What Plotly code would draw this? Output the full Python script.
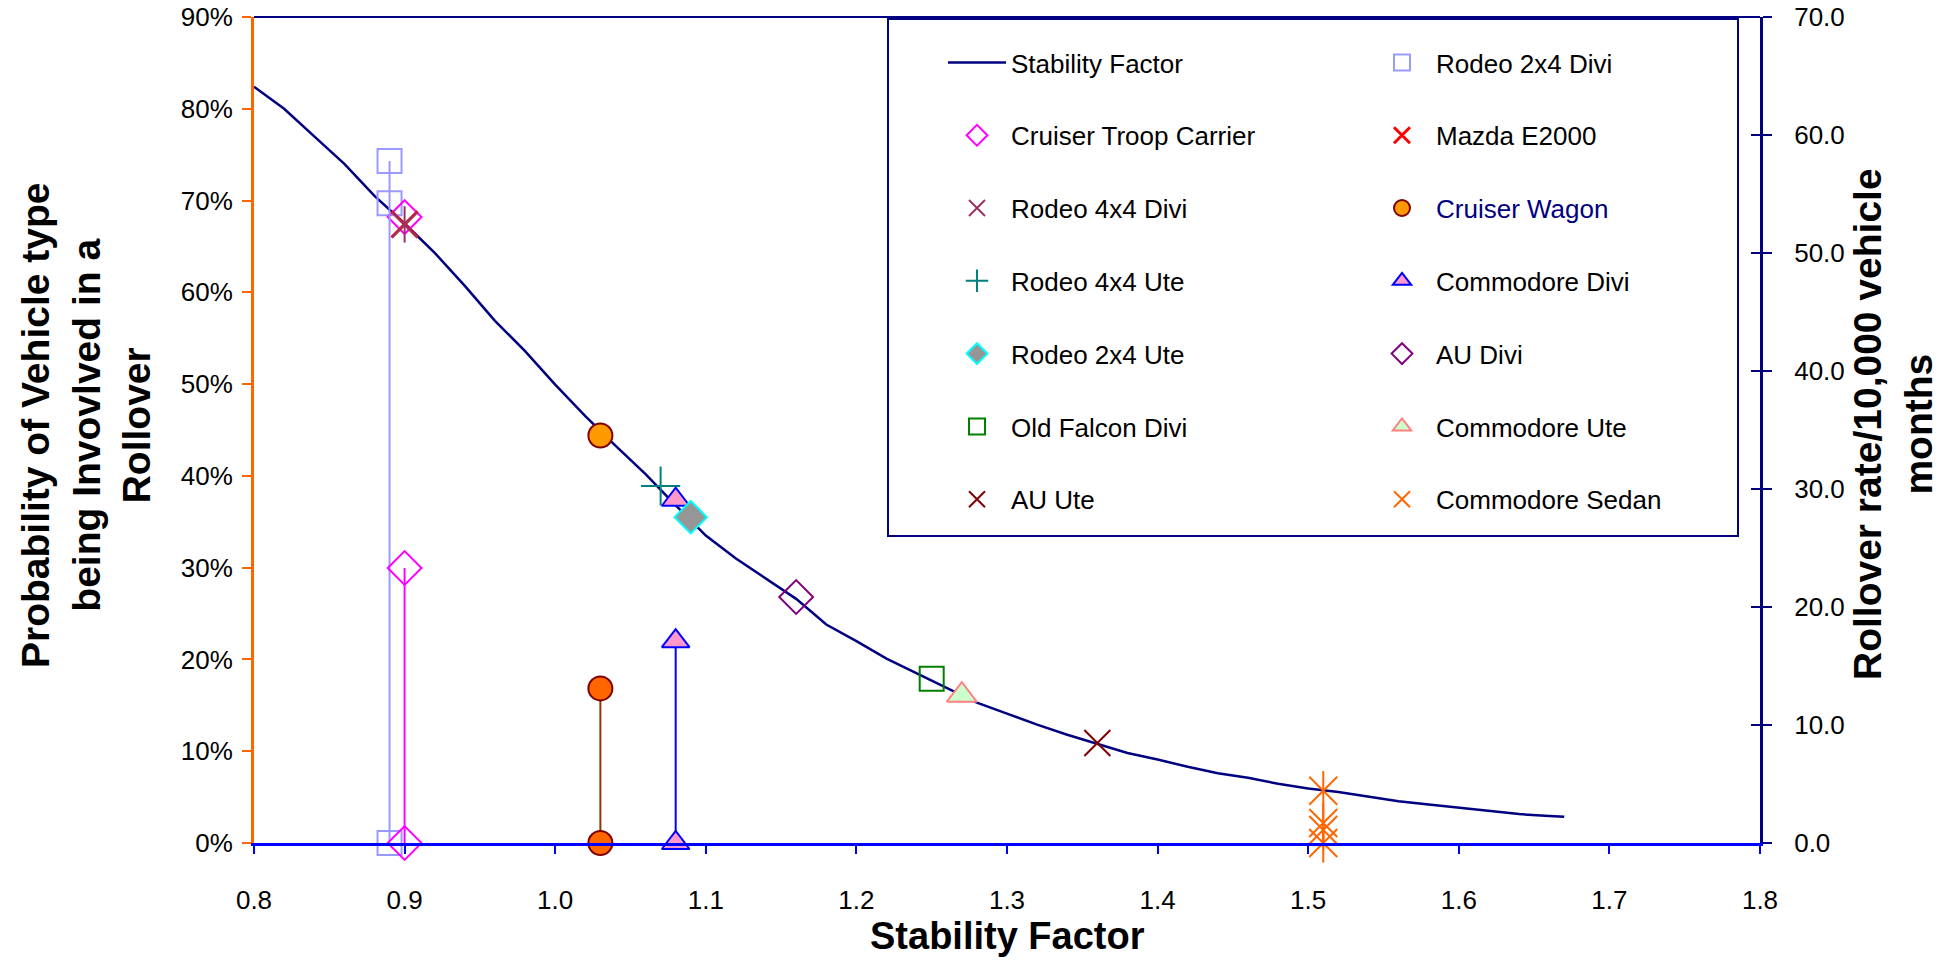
import plotly.graph_objects as go

# ---------------- data ----------------
curve_sf = [0.80, 0.82, 0.84, 0.86, 0.88, 0.90, 0.92, 0.94, 0.96, 0.98,
            1.00, 1.02, 1.04, 1.06, 1.08, 1.10, 1.12, 1.14, 1.16, 1.18,
            1.20, 1.22, 1.24, 1.26, 1.28, 1.30, 1.32, 1.34, 1.36, 1.38,
            1.40, 1.42, 1.44, 1.46, 1.48, 1.50, 1.52, 1.54, 1.56, 1.58,
            1.60, 1.62, 1.64, 1.66, 1.67]
curve_prob_pct = [82.4, 80.0, 77.0, 74.0, 70.5, 67.5, 64.3, 60.7, 56.9, 53.6,
                  49.95, 46.5, 43.3, 40.2, 36.8, 33.5, 31.0, 28.8, 26.6, 23.8,
                  22.0, 20.1, 18.5, 16.9, 15.3, 14.1, 12.9, 11.8, 10.8, 9.8,
                  9.1, 8.3, 7.6, 7.1, 6.45, 5.95, 5.55, 5.05, 4.55, 4.2,
                  3.85, 3.5, 3.15, 2.95, 2.85]

veh_names = ["Rodeo 2x4 Divi", "Cruiser Troop Carrier", "Mazda E2000", "Rodeo 4x4 Divi",
             "Cruiser Wagon", "Rodeo 4x4 Ute", "Commodore Divi", "Rodeo 2x4 Ute",
             "AU Divi", "Old Falcon Divi", "Commodore Ute", "AU Ute", "Commodore Sedan"]
veh_sf = [0.89, 0.90, 0.90, 0.90, 1.03, 1.07, 1.08, 1.09, 1.16, 1.25, 1.27, 1.36, 1.51]
veh_prob_pct = [69.7, 68.2, 67.4, 67.4, 44.4, 38.9, 37.4, 35.5, 26.8, 17.9, 16.1, 10.9, 5.7]

# rollover rate per 10,000 vehicle months (right axis), drawn as stems from 0
stem_names = ["Rodeo 2x4 Divi", "Cruiser Troop Carrier", "Cruiser Wagon", "Commodore Divi", "Commodore Sedan"]
stem_sf = [0.89, 0.90, 1.03, 1.08, 1.51]
stem_rates = [[0.0, 57.8], [0.0, 23.3], [0.0, 13.1], [0.0, 17.1], [0.0, 1.1, 1.7]]

x_ticks = [0.8, 0.9, 1.0, 1.1, 1.2, 1.3, 1.4, 1.5, 1.6, 1.7, 1.8]

# ---------------- styles ----------------
FONT = "Liberation Sans, Arial, sans-serif"
NAVY = "#000080"

styles = {
    "Rodeo 2x4 Divi": dict(symbol="square-open", size=24, color="#9999FF", line=dict(width=2, color="#9999FF")),
    "Cruiser Troop Carrier": dict(symbol="diamond-open", size=26, color="#FF00FF", line=dict(width=2, color="#FF00FF")),
    "Mazda E2000": dict(symbol="x-thin-open", size=26, color="#FF0000", line=dict(width=3, color="#FF0000")),
    "Rodeo 4x4 Divi": dict(symbol="x-thin-open", size=26, color="#993366", line=dict(width=2, color="#993366")),
    "Cruiser Wagon": dict(symbol="circle", size=24, color="#FF9900", line=dict(width=2, color="#800000")),
    "Rodeo 4x4 Ute": dict(symbol="cross-thin-open", size=28, color="#008080", line=dict(width=2, color="#008080")),
    "Commodore Divi": dict(symbol="triangle-up", size=24, color="#FF99CC", line=dict(width=2, color="#0000FF")),
    "Rodeo 2x4 Ute": dict(symbol="diamond", size=25, color="#969696", line=dict(width=2, color="#00FFFF")),
    "AU Divi": dict(symbol="diamond-open", size=26, color="#800080", line=dict(width=2, color="#800080")),
    "Old Falcon Divi": dict(symbol="square-open", size=24, color="#008000", line=dict(width=2, color="#008000")),
    "Commodore Ute": dict(symbol="triangle-up", size=26, color="#CCFFCC", line=dict(width=2, color="#FF8080")),
    "AU Ute": dict(symbol="x-thin-open", size=26, color="#800000", line=dict(width=2, color="#800000")),
    "Commodore Sedan": dict(symbol="x-thin-open", size=28, color="#FF6600", line=dict(width=2, color="#FF6600")),
}
star_vehicles = {"Rodeo 4x4 Divi", "Commodore Sedan"}  # X plus a vertical bar
stem_line_color = {"Rodeo 2x4 Divi": "#9999FF", "Cruiser Troop Carrier": "#FF00FF",
                   "Cruiser Wagon": "#993300", "Commodore Divi": "#0000FF",
                   "Commodore Sedan": "#FF6600"}
stem_fill = {"Cruiser Wagon": "#FF6600"}

col1 = ["Stability Factor", "Cruiser Troop Carrier", "Rodeo 4x4 Divi", "Rodeo 4x4 Ute",
        "Rodeo 2x4 Ute", "Old Falcon Divi", "AU Ute"]
col2 = ["Rodeo 2x4 Divi", "Mazda E2000", "Cruiser Wagon", "Commodore Divi",
        "AU Divi", "Commodore Ute", "Commodore Sedan"]

def legend_of(name):
    return "legend" if name in col1 else "legend2"

def label(name):
    if name == "Cruiser Wagon":
        return '<span style="color:#000080">Cruiser Wagon</span>'
    return name

fig = go.Figure()

fig.add_trace(go.Scatter(
    x=curve_sf, y=[p / 100 for p in curve_prob_pct], mode="lines",
    name="Stability Factor", line=dict(color=NAVY, width=2.5),
    legend="legend", legendgroup="Stability Factor", yaxis="y"))

# stems (right axis)
for nm, sx, rates in zip(stem_names, stem_sf, stem_rates):
    st = dict(styles[nm])
    if nm in stem_fill:
        st["color"] = stem_fill[nm]
    fig.add_trace(go.Scatter(
        x=[sx] * len(rates), y=rates, mode="lines+markers", yaxis="y2",
        line=dict(color=stem_line_color[nm], width=2), marker=st,
        showlegend=False, legendgroup=nm, legend=legend_of(nm), cliponaxis=False, name=nm))
    if nm in star_vehicles:
        fig.add_trace(go.Scatter(
            x=[sx] * len(rates), y=rates, mode="markers", yaxis="y2",
            marker=dict(symbol="line-ns-open", size=st["size"], color=st["color"],
                        line=dict(width=2, color=st["color"])),
            showlegend=False, legendgroup=nm, legend=legend_of(nm), cliponaxis=False, name=nm))

# points on the curve (left axis)
for nm, sx, pp in zip(veh_names, veh_sf, veh_prob_pct):
    st = styles[nm]
    fig.add_trace(go.Scatter(
        x=[sx], y=[pp / 100], mode="markers", yaxis="y", name=label(nm),
        marker=st, legendgroup=nm, legend=legend_of(nm), cliponaxis=False))
    if nm in star_vehicles:
        fig.add_trace(go.Scatter(
            x=[sx], y=[pp / 100], mode="markers", yaxis="y",
            marker=dict(symbol="line-ns-open", size=st["size"], color=st["color"],
                        line=dict(width=2, color=st["color"])),
            showlegend=False, legendgroup=nm, legend=legend_of(nm), cliponaxis=False, name=nm))

order = col1 + col2
for tr in fig.data:
    tr.legendrank = order.index(tr.legendgroup) + 1

# empty helper trace so the inside-tick companion of the right axis is drawn
fig.add_trace(go.Scatter(x=[], y=[], yaxis="y3", showlegend=False, hoverinfo="skip"))

W, H = 1953, 965
L, R, T, B = 254, 1760, 17, 843     # plot area, pixels
pw, ph = R - L, B - T

def px(xs):
    return (xs - L) / pw

def py(ys):
    return (B - ys) / ph

legend_common = dict(
    bgcolor="rgba(0,0,0,0)", borderwidth=0, font=dict(family=FONT, size=26, color="black"),
    tracegroupgap=36, itemsizing="trace", itemwidth=58, xanchor="left", yanchor="top",
    orientation="v", traceorder="grouped")

axis_common = dict(showgrid=False, zeroline=False, automargin=False, ticks="outside", tickwidth=2,
                   ticklabeloverflow="allow",
                   tickfont=dict(family=FONT, size=26, color="black"))

fig.update_layout(
    width=W, height=H,
    margin=dict(l=L, r=W - R, t=T, b=H - B, pad=0, autoexpand=False),
    paper_bgcolor="white", plot_bgcolor="white",
    font=dict(family=FONT, size=26, color="black"),
    showlegend=True,
    legend=dict(x=px(943), y=py(39), **legend_common),
    legend2=dict(x=px(1368), y=py(39), **legend_common),
    xaxis=dict(range=[0.8, 1.8], tickvals=x_ticks, tickformat=".1f",
               showline=True, linecolor="#0000FF", linewidth=3,
               ticklen=8, tickcolor="#0000FF", ticklabelstandoff=24, **axis_common),
    yaxis=dict(range=[0, 0.9], dtick=0.1, tickformat=".0%",
               showline=True, linecolor="#FF6600", linewidth=3,
               ticklen=9, tickcolor="#FF6600", ticklabelstandoff=4, **axis_common),
    yaxis2=dict(range=[0, 70], dtick=10, tickformat=".1f", overlaying="y", side="right",
                showline=True, linecolor=NAVY, linewidth=3,
                ticklen=9, tickcolor=NAVY, ticklabelstandoff=17, **axis_common),
    yaxis3=dict(range=[0, 70], dtick=10, overlaying="y", side="right", anchor="x",
                showline=False, showgrid=False, zeroline=False, automargin=False,
                ticks="inside", ticklen=9, tickwidth=2, tickcolor=NAVY, showticklabels=False),
    shapes=[
        dict(type="line", xref="paper", yref="paper", x0=0, x1=1, y0=1, y1=1,
             line=dict(color=NAVY, width=2)),
        dict(type="rect", xref="paper", yref="paper", x0=px(888), x1=px(1738),
             y0=py(536), y1=py(19), line=dict(color=NAVY, width=2), fillcolor="rgba(0,0,0,0)"),
    ],
    annotations=[
        dict(text="Probability of Vehicle type<br>being Invovlved in a<br>Rollover",
             xref="paper", yref="paper", x=px(86), y=py(426), xanchor="center", yanchor="middle",
             textangle=-90, showarrow=False,
             font=dict(family=FONT, size=39, color="black", weight="bold")),
        dict(text="Rollover rate/10,000 vehicle<br>months",
             xref="paper", yref="paper", x=px(1893), y=py(424), xanchor="center", yanchor="middle",
             textangle=-90, showarrow=False,
             font=dict(family=FONT, size=39, color="black", weight="bold")),
        dict(text="Stability Factor", xref="paper", yref="paper", x=0.5, y=py(936),
             xanchor="center", yanchor="middle", showarrow=False,
             font=dict(family=FONT, size=38, color="black", weight="bold")),
    ],
)

# remove the default 8px page margin so that the figure fills the window exactly
fig.write_html("out.html",
               config={"displayModeBar": False},
               post_script="document.body.style.margin='0';document.body.style.overflow='hidden';")
